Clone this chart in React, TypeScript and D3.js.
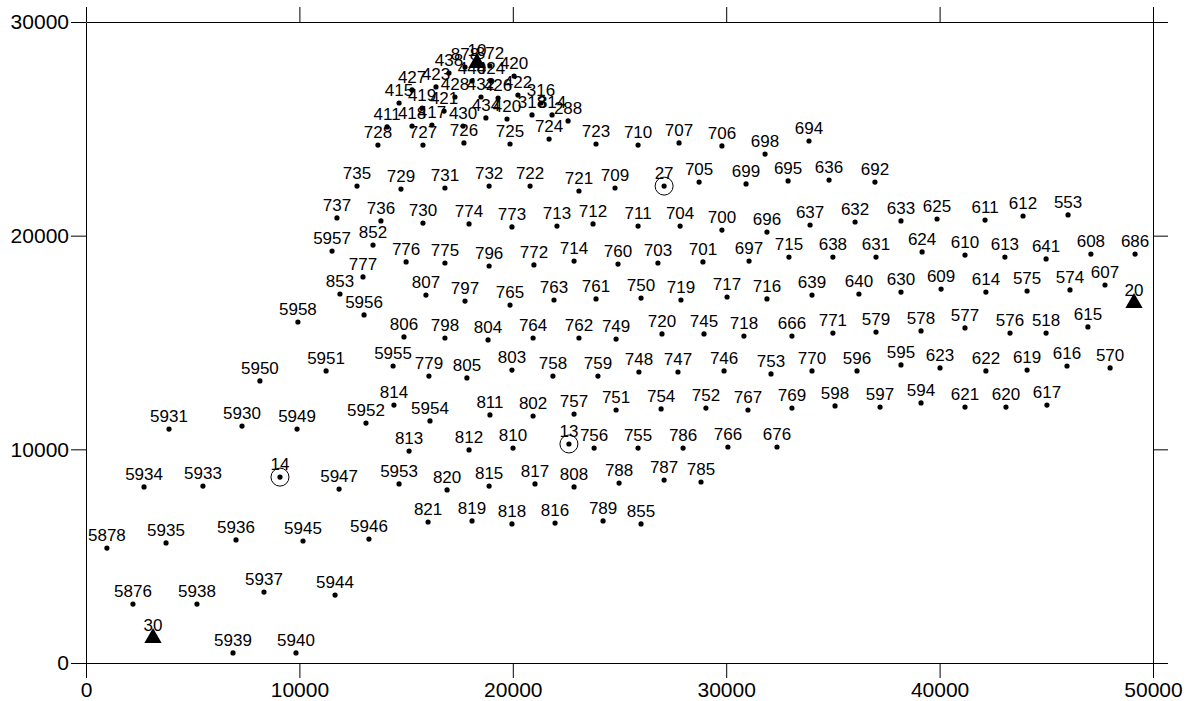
import React, { useEffect, useRef } from "react";
import * as d3 from "d3";

// [label, easting, northing]
type Well = [string, number, number];

const crest: Well[] = [
  ["878", 17760, 27890], ["438", 17010, 27610], ["872", 18930, 27940], ["420", 20060, 27470],
  ["440", 18090, 27240], ["424", 18980, 27240], ["427", 15280, 26820], ["423", 16400, 26960],
  ["428", 17290, 26490], ["432", 18510, 26490], ["426", 19310, 26440], ["422", 20240, 26580],
  ["316", 21320, 26210], ["415", 14670, 26210], ["419", 15750, 25970], ["421", 16780, 25830],
  ["434", 18740, 25510], ["420", 19730, 25460], ["318", 20900, 25650], ["314", 21840, 25650],
  ["288", 22590, 25370], ["411", 14110, 25090], ["418", 15280, 25130], ["417", 16210, 25180],
  ["430", 17670, 25130],
];

const row728: Well[] = [
  ["728", 13680, 24240], ["727", 15790, 24240], ["726", 17710, 24340], ["725", 19870, 24290],
  ["724", 21700, 24520], ["723", 23900, 24290], ["710", 25870, 24240], ["707", 27790, 24340],
  ["706", 29800, 24200], ["698", 31820, 23820], ["694", 33880, 24430],
];

const row735: Well[] = [
  ["735", 12700, 22320], ["729", 14760, 22180], ["731", 16820, 22230], ["732", 18890, 22320],
  ["722", 20810, 22320], ["721", 23100, 22090], ["709", 24790, 22230], ["705", 28730, 22510],
  ["699", 30930, 22420], ["695", 32900, 22560], ["636", 34820, 22600], ["692", 36970, 22510],
];

const row737: Well[] = [
  ["737", 11760, 20830], ["736", 13820, 20690], ["730", 15790, 20590], ["774", 17950, 20550],
  ["773", 19960, 20410], ["713", 22070, 20450], ["712", 23760, 20550], ["711", 25870, 20450],
  ["704", 27840, 20450], ["700", 29800, 20260], ["696", 31910, 20170], ["637", 33930, 20500],
  ["632", 36040, 20640], ["633", 38190, 20690], ["625", 39880, 20780], ["611", 42130, 20730],
  ["612", 43910, 20920], ["553", 46020, 20970],
];

const row776: Well[] = [
  ["5957", 11530, 19280], ["852", 13450, 19560], ["776", 15000, 18770], ["775", 16820, 18720],
  ["796", 18890, 18580], ["772", 20990, 18630], ["714", 22870, 18810], ["760", 24930, 18670],
  ["703", 26800, 18720], ["701", 28910, 18770], ["697", 31070, 18810], ["715", 32940, 19000],
  ["638", 35000, 19000], ["631", 37020, 19000], ["624", 39180, 19240], ["610", 41190, 19090],
  ["613", 43060, 19000], ["641", 44990, 18910], ["608", 47090, 19140], ["686", 49160, 19140],
];

const row807: Well[] = [
  ["777", 12980, 18070], ["853", 11900, 17270], ["807", 15930, 17220], ["797", 17760, 16940],
  ["765", 19870, 16750], ["763", 21930, 16990], ["761", 23900, 17040], ["750", 26010, 17080],
  ["719", 27880, 16990], ["717", 30040, 17130], ["716", 31910, 17040], ["639", 34020, 17220],
  ["640", 36220, 17270], ["630", 38190, 17360], ["609", 40070, 17500], ["614", 42170, 17360],
  ["575", 44100, 17410], ["574", 46110, 17460], ["607", 47750, 17690],
];

const row806: Well[] = [
  ["5958", 9930, 15960], ["5956", 13030, 16290], ["806", 14900, 15260], ["798", 16820, 15210],
  ["804", 18840, 15120], ["764", 20950, 15210], ["762", 23100, 15210], ["749", 24840, 15160],
  ["720", 26990, 15400], ["745", 28960, 15400], ["718", 30830, 15300], ["666", 33080, 15300],
  ["771", 35000, 15440], ["579", 37020, 15490], ["578", 39130, 15540], ["577", 41190, 15680],
  ["576", 43300, 15440], ["518", 44990, 15440], ["615", 46950, 15730],
];

const row779: Well[] = [
  ["5950", 8150, 13200], ["5951", 11250, 13670], ["5955", 14390, 13900], ["779", 16070, 13430],
  ["805", 17850, 13340], ["803", 19960, 13710], ["758", 21880, 13430], ["759", 23990, 13430],
  ["748", 25910, 13620], ["747", 27740, 13620], ["746", 29900, 13670], ["753", 32100, 13530],
  ["770", 34020, 13670], ["596", 36130, 13670], ["595", 38190, 13950], ["623", 40020, 13810],
  ["622", 42170, 13670], ["619", 44100, 13710], ["616", 45970, 13900], ["570", 47990, 13810],
];

const row814: Well[] = [
  ["5931", 3890, 10950], ["5930", 7310, 11090], ["5949", 9890, 10950], ["5952", 13120, 11230],
  ["814", 14430, 12070], ["5954", 16120, 11330], ["811", 18930, 11610], ["802", 20950, 11560],
  ["757", 22870, 11650], ["751", 24840, 11840], ["754", 26950, 11890], ["752", 29050, 11930],
  ["767", 31020, 11840], ["769", 33080, 11930], ["598", 35100, 12030], ["597", 37210, 11980],
  ["594", 39130, 12170], ["621", 41190, 11980], ["620", 43110, 11980], ["617", 45030, 12070],
];

const row813: Well[] = [
  ["813", 15140, 9920], ["812", 17950, 9970], ["810", 20010, 10060], ["756", 23810, 10060],
  ["755", 25870, 10060], ["786", 27980, 10060], ["766", 30080, 10110], ["676", 32380, 10110],
];

const row820: Well[] = [
  ["5934", 2720, 8240], ["5933", 5480, 8280], ["5947", 11860, 8140], ["5953", 14670, 8380],
  ["820", 16920, 8100], ["815", 18890, 8280], ["817", 21040, 8380], ["808", 22870, 8240],
  ["788", 24980, 8420], ["787", 27090, 8560], ["785", 28820, 8470],
];

const row821: Well[] = [
  ["821", 16030, 6600], ["819", 18090, 6650], ["818", 19960, 6510], ["816", 21980, 6550],
  ["789", 24230, 6650], ["855", 26010, 6510],
];

const southWest: Well[] = [
  ["5878", 980, 5380], ["5935", 3750, 5620], ["5936", 7030, 5760], ["5945", 10170, 5710],
  ["5946", 13260, 5800], ["5876", 2200, 2760], ["5938", 5200, 2760], ["5937", 8340, 3320],
  ["5944", 11670, 3180], ["5939", 6890, 470], ["5940", 9840, 470],
];

const observation: Well[] = [["27", 27090, 22320], ["13", 22630, 10250], ["14", 9090, 8700]];
const pumping: Well[] = [["10", 18320, 28080], ["20", 49110, 16850], ["30", 3140, 1170]];

const xTicks = [0, 10000, 20000, 30000, 40000, 50000];
const yTicks = [0, 10000, 20000, 30000];

const W = 1194;
const H = 701;
const FONT = "'Liberation Sans', Arial, sans-serif";

export default function App() {
  const ref = useRef<SVGSVGElement>(null);

  useEffect(() => {
    document.body.style.margin = "0";
    const margin = { top: 22, right: 41, bottom: 38, left: 86 };
    const svg = d3.select(ref.current);
    svg.selectAll("*").remove();

    const x = d3.scaleLinear().domain([0, 50000]).range([margin.left, W - margin.right]);
    const y = d3.scaleLinear().domain([0, 30000]).range([H - margin.bottom, margin.top]);

    const styleAxis = (g: any, size: number) => {
      g.selectAll("path").attr("stroke", "#000");
      g.selectAll("line").attr("stroke", "#000");
      g.selectAll("text").attr("fill", "#000").style("font-size", size + "px").style("font-family", FONT);
    };

    svg.append("g")
      .attr("transform", `translate(0,${y(0)})`)
      .call(d3.axisBottom(x).tickValues(xTicks).tickSize(15).tickSizeOuter(0).tickPadding(4).tickFormat(d3.format("d")))
      .call((g) => styleAxis(g, 21));
    svg.append("g")
      .attr("transform", `translate(${x(0)},0)`)
      .call(d3.axisLeft(y).tickValues(yTicks).tickSize(15).tickSizeOuter(0).tickPadding(2).tickFormat(d3.format("d")))
      .call((g) => styleAxis(g, 21));
    svg.append("g")
      .attr("transform", `translate(0,${y(30000)})`)
      .call(d3.axisTop(x).tickValues(xTicks).tickSize(15).tickSizeOuter(0).tickFormat(() => ""))
      .call((g) => styleAxis(g, 21));
    svg.append("g")
      .attr("transform", `translate(${x(50000)},0)`)
      .call(d3.axisRight(y).tickValues(yTicks).tickSize(15).tickSizeOuter(0).tickFormat(() => ""))
      .call((g) => styleAxis(g, 21));

    const wells = [
      ...crest, ...row728, ...row735, ...row737, ...row776, ...row807, ...row806,
      ...row779, ...row814, ...row813, ...row820, ...row821, ...southWest, ...observation,
    ];

    const plot = svg.append("g");

    plot.selectAll("circle.dot")
      .data(wells)
      .join("circle")
      .attr("class", "dot")
      .attr("cx", (d) => x(d[1]))
      .attr("cy", (d) => y(d[2]))
      .attr("r", 2.6)
      .attr("fill", "#000");

    plot.selectAll("circle.ring")
      .data(observation)
      .join("circle")
      .attr("class", "ring")
      .attr("cx", (d) => x(d[1]))
      .attr("cy", (d) => y(d[2]))
      .attr("r", 9)
      .attr("fill", "none")
      .attr("stroke", "#000")
      .attr("stroke-width", 1);

    const tri = d3.symbol().type(d3.symbolTriangle).size(130);
    plot.selectAll("path.tri")
      .data(pumping)
      .join("path")
      .attr("class", "tri")
      .attr("transform", (d) => `translate(${x(d[1])},${y(d[2])})`)
      .attr("d", tri() as string)
      .attr("fill", "#000");

    plot.selectAll("text.lbl")
      .data([...wells, ...pumping])
      .join("text")
      .attr("class", "lbl")
      .attr("x", (d) => x(d[1]))
      .attr("y", (d) => y(d[2]) - 7)
      .attr("text-anchor", "middle")
      .style("font-size", "17px")
      .style("font-family", FONT)
      .attr("fill", "#000")
      .text((d) => d[0]);
  }, []);

  return <svg ref={ref} width={W} height={H} style={{ display: "block", background: "#fff" }} />;
}
